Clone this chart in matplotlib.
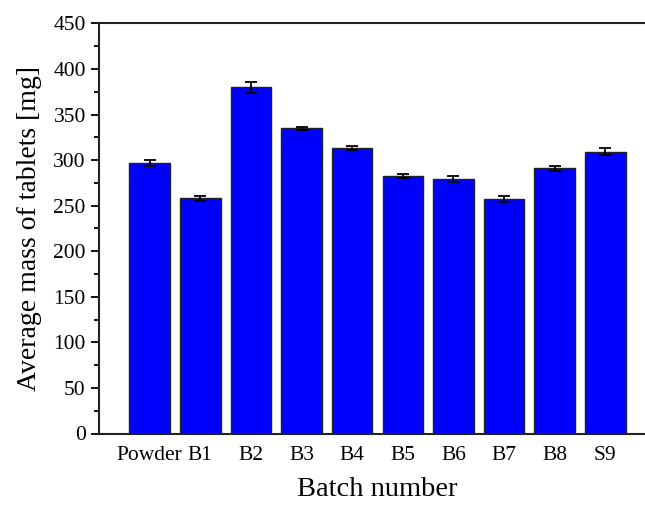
import numpy as np
import matplotlib.pyplot as plt
from matplotlib.ticker import MultipleLocator

# batch data
batches = ['Powder', 'B1', 'B2', 'B3', 'B4', 'B5', 'B6', 'B7', 'B8', 'S9']
mass_mean = [297, 258, 380, 335, 313.5, 283, 279.5, 257.5, 291, 309.5]
mass_err = [3.5, 3, 5.8, 1.5, 2, 2.2, 3, 3.5, 2.5, 3.7]

plt.rcParams['font.family'] = ['Liberation Serif', 'DejaVu Serif']

fig = plt.figure(figsize=(6.45, 5.05), dpi=100)
# axes run past the right edge of the figure, as in the reference
ax = fig.add_axes([99 / 645, (505 - 433.5) / 505, 557 / 645, 410 / 505])

x = np.arange(1, len(batches) + 1)
ax.bar(x, mass_mean, width=0.8, color='#0000ff', edgecolor='#222222', linewidth=1.0,
       yerr=mass_err, error_kw=dict(ecolor='black', elinewidth=1.3, capsize=4.5, capthick=1.3))

ax.set_xlim(0, 11)
ax.set_ylim(0, 450)
ax.set_xticks(x)
ax.set_xticklabels(batches)
ax.yaxis.set_major_locator(MultipleLocator(50))
ax.yaxis.set_minor_locator(MultipleLocator(25))

ax.tick_params(axis='x', length=0, labelsize=15.5, pad=9)
ax.tick_params(axis='y', which='major', length=6, width=1.3, labelsize=15.5, direction='out')
ax.tick_params(axis='y', which='minor', length=3.5, width=1.3, direction='out')

for side in ['left', 'bottom', 'top', 'right']:
    ax.spines[side].set_linewidth(1.5)
    ax.spines[side].set_color('#222222')

ax.set_xlabel('Batch number', fontsize=20.5, labelpad=9)
ax.set_ylabel('Average mass of tablets [mg]', fontsize=20, labelpad=8)

fig.savefig('out.png', dpi=100)
